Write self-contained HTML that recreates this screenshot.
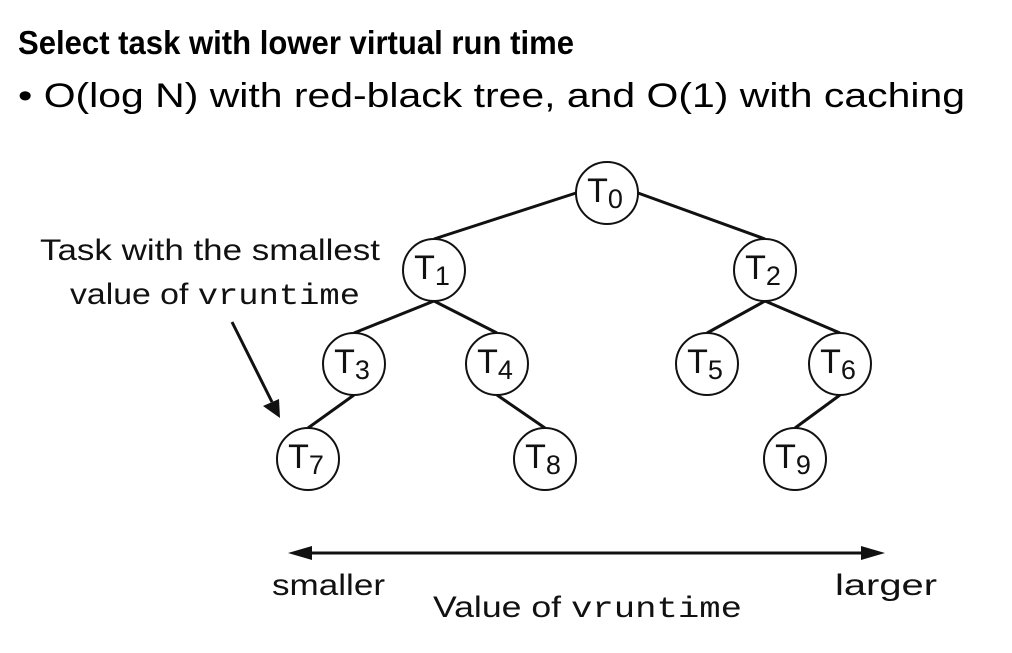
<!DOCTYPE html>
<html><head><meta charset="utf-8"><style>
body{margin:0;width:1012px;height:648px;background:#fff;overflow:hidden;font-family:"Liberation Sans",sans-serif}
</style></head><body>
<svg width="1012" height="648" viewBox="0 0 1012 648" xmlns="http://www.w3.org/2000/svg">
<text x="18" y="54" font-family="Liberation Sans, sans-serif" font-weight="bold" font-size="33" fill="#000" textLength="556" lengthAdjust="spacingAndGlyphs">Select task with lower virtual run time</text>
<text x="18" y="107" font-family="Liberation Sans, sans-serif" font-size="34" fill="#000" textLength="947" lengthAdjust="spacingAndGlyphs">• O(log N) with red-black tree, and O(1) with caching</text>
<g stroke="#111" stroke-width="3" fill="none">
<line x1="576" y1="193" x2="434" y2="239"/><line x1="638" y1="193" x2="765" y2="239"/>
<line x1="434" y1="301" x2="354" y2="333"/><line x1="434" y1="301" x2="497" y2="333"/>
<line x1="765" y1="301" x2="707" y2="333"/><line x1="765" y1="301" x2="840" y2="333"/>
<line x1="354" y1="395" x2="308" y2="428"/><line x1="497" y1="395" x2="545" y2="428"/>
<line x1="840" y1="395" x2="795" y2="428"/>
<line x1="232" y1="322" x2="272" y2="402"/>
<line x1="300" y1="553" x2="875" y2="553"/>
</g>
<path d="M280,418 L263,406 L279,399 z" fill="#111"/>
<path d="M288,553 L312,546 L312,560 z M885,553 L861,546 L861,560 z" fill="#111"/>
<g fill="#fff" stroke="#111" stroke-width="2">
<circle cx="607" cy="193" r="31"/><circle cx="434" cy="270" r="31"/><circle cx="765" cy="270" r="31"/>
<circle cx="354" cy="364" r="31"/><circle cx="497" cy="364" r="31"/><circle cx="707" cy="364" r="31"/><circle cx="840" cy="364" r="31"/>
<circle cx="308" cy="459" r="31"/><circle cx="545" cy="459" r="31"/><circle cx="795" cy="459" r="31"/>
</g>
<g font-family="Liberation Sans, sans-serif" font-size="34" fill="#111" text-anchor="middle">
<text x="605" y="202">T<tspan font-size="27" dy="6">0</tspan></text>
<text x="432" y="279">T<tspan font-size="27" dy="6">1</tspan></text>
<text x="763" y="279">T<tspan font-size="27" dy="6">2</tspan></text>
<text x="352" y="373">T<tspan font-size="27" dy="6">3</tspan></text>
<text x="495" y="373">T<tspan font-size="27" dy="6">4</tspan></text>
<text x="705" y="373">T<tspan font-size="27" dy="6">5</tspan></text>
<text x="838" y="373">T<tspan font-size="27" dy="6">6</tspan></text>
<text x="306" y="468">T<tspan font-size="27" dy="6">7</tspan></text>
<text x="543" y="468">T<tspan font-size="27" dy="6">8</tspan></text>
<text x="793" y="468">T<tspan font-size="27" dy="6">9</tspan></text>
</g>
<g font-family="Liberation Sans, sans-serif" font-size="30" fill="#111">
<text x="40" y="260" textLength="340" lengthAdjust="spacingAndGlyphs">Task with the smallest</text>
<text x="70" y="304" textLength="290" lengthAdjust="spacingAndGlyphs">value of <tspan font-family="Liberation Mono, monospace">vruntime</tspan></text>
<text x="272" y="595" textLength="113" lengthAdjust="spacingAndGlyphs">smaller</text>
<text x="835" y="595" textLength="102" lengthAdjust="spacingAndGlyphs">larger</text>
<text x="433" y="617" textLength="309" lengthAdjust="spacingAndGlyphs">Value of <tspan font-family="Liberation Mono, monospace">vruntime</tspan></text>
</g>
</svg>
</body></html>
